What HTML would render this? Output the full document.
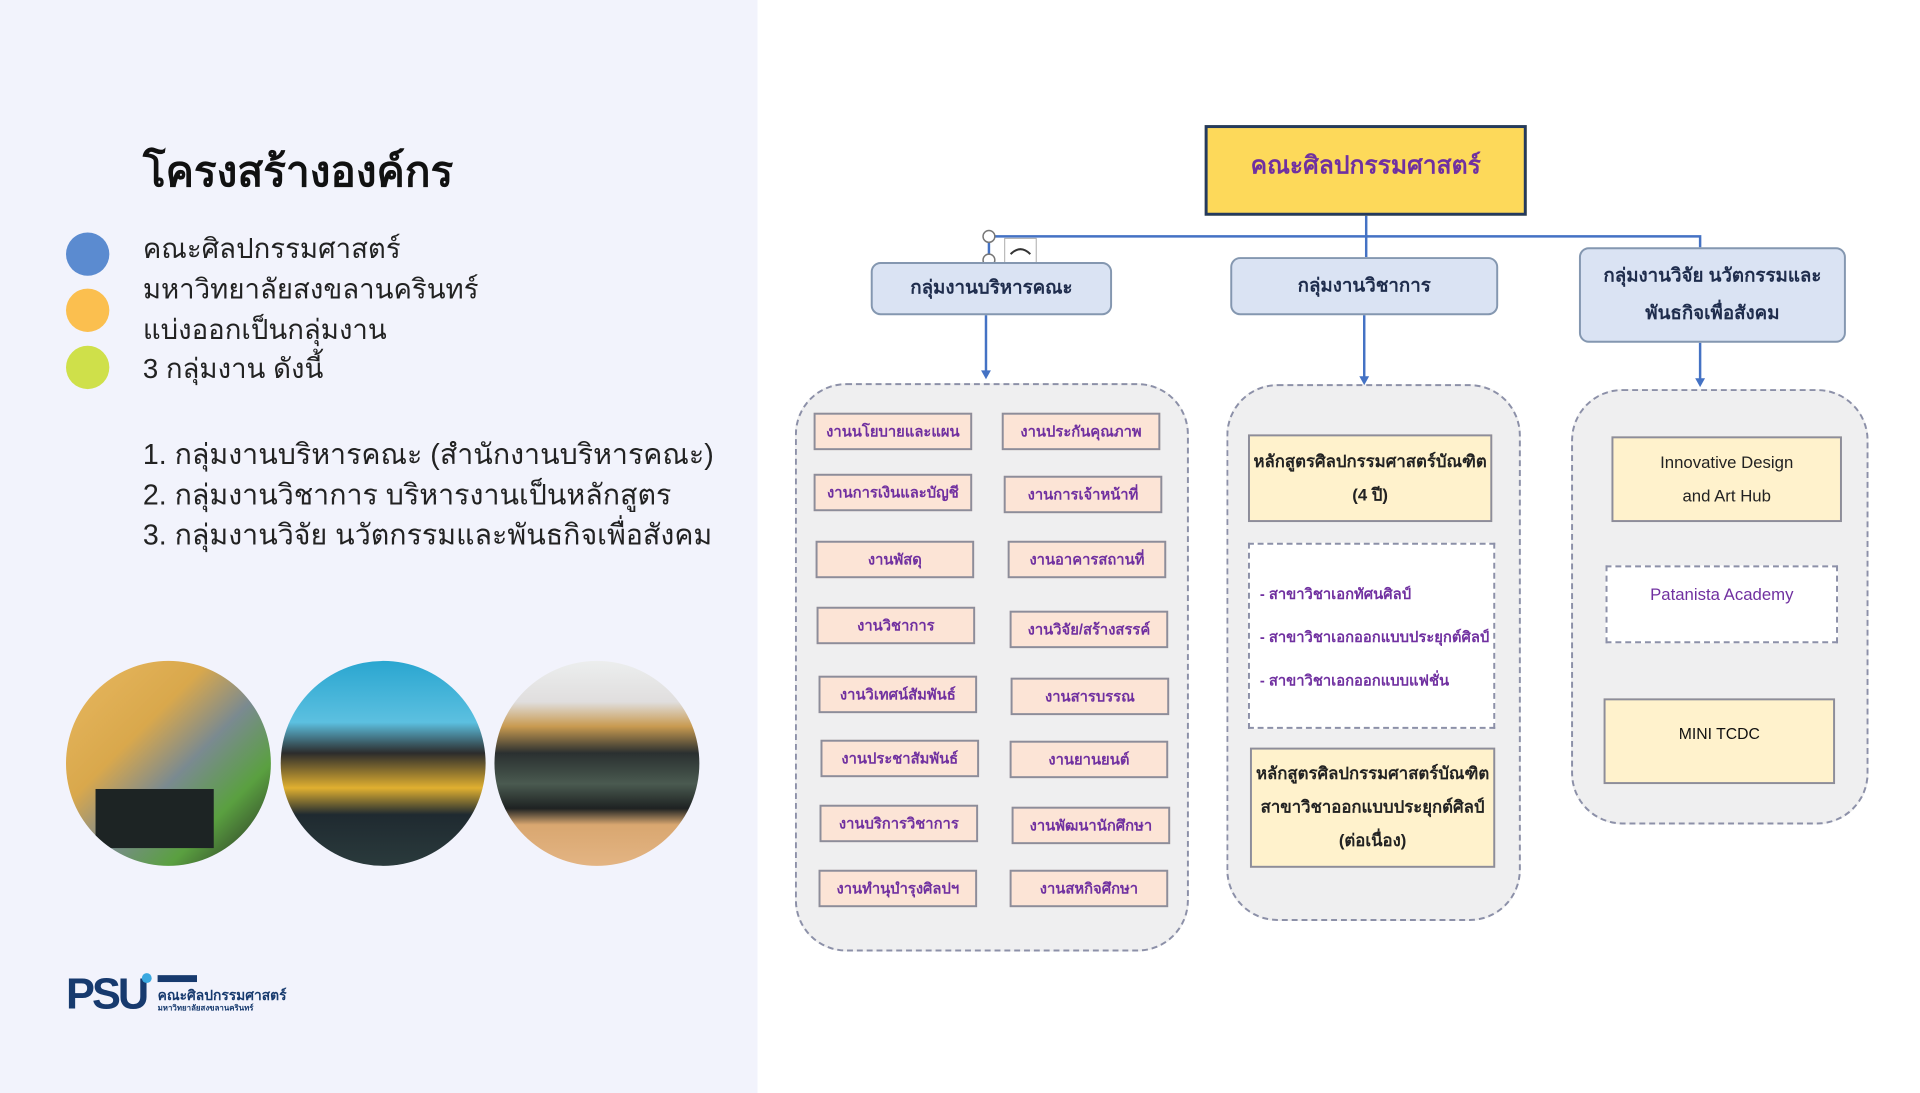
<!DOCTYPE html>
<html><head><meta charset="utf-8"><style>
*{margin:0;padding:0;box-sizing:border-box}
body{width:1920px;height:1080px;position:relative;background:#fff;font-family:"Liberation Sans","Noto Sans CJK SC",sans-serif;overflow:hidden}
#w{position:absolute;left:0;top:0;width:1960px;height:1110px;transform:scale(0.985);transform-origin:0 0}
.a{position:absolute}
.lp{left:0;top:0;width:769px;height:1110px;background:#f2f3fc}
.t{font-size:28px;color:#222;white-space:nowrap;line-height:40px}
.t2{font-size:29px;color:#222;white-space:nowrap;line-height:40px}
.dot{width:44px;height:44px;border-radius:50%}
.ph{width:208px;height:208px;border-radius:50%;overflow:hidden}
.cont{background:#efeff0;border:2px dashed #8c90a8;border-radius:52px}
.grp{background:#dae3f3;border:2px solid #8497b0;border-radius:10px;display:flex;align-items:center;justify-content:center;text-align:center;font-size:19px;font-weight:bold;color:#1f2d4d;line-height:38px}
.sb{background:#fce4d6;border:2px solid #8d8d9a;display:flex;align-items:center;justify-content:center;font-size:15px;font-weight:bold;color:#7030a0;width:161px;height:38px}
.yb{background:#fff2cc;border:2px solid #8d8d9a;display:flex;align-items:center;justify-content:center;text-align:center}
.pt{font-size:17px;font-weight:bold;color:#222;line-height:34px}
</style></head><body><div id="w">
<div class="a lp"></div>
<div class="a" style="left:145px;top:140px;font-size:43px;font-weight:bold;color:#111;white-space:nowrap">โครงสร้างองค์กร</div>
<div class="a dot" style="left:67px;top:236px;background:#5b8bd0"></div>
<div class="a dot" style="left:67px;top:293px;background:#fbbf4f"></div>
<div class="a dot" style="left:67px;top:351px;background:#cfe04a"></div>
<div class="a t" style="left:145px;top:233px">คณะศิลปกรรมศาสตร์</div>
<div class="a t" style="left:145px;top:274px">มหาวิทยาลัยสงขลานครินทร์</div>
<div class="a t" style="left:145px;top:315px">แบ่งออกเป็นกลุ่มงาน</div>
<div class="a t" style="left:145px;top:355px">3 กลุ่มงาน ดังนี้</div>
<div class="a t2" style="left:145px;top:442px">1. กลุ่มงานบริหารคณะ (สำนักงานบริหารคณะ)</div>
<div class="a t2" style="left:145px;top:483px">2. กลุ่มงานวิชาการ บริหารงานเป็นหลักสูตร</div>
<div class="a t2" style="left:145px;top:524px">3. กลุ่มงานวิจัย นวัตกรรมและพันธกิจเพื่อสังคม</div>

<div class="a ph" style="left:67px;top:671px;background:linear-gradient(135deg,#e8b860 0%,#d9a84c 35%,#7a8a90 55%,#5aa040 75%,#222 100%)"><div style="position:absolute;left:30px;top:130px;width:120px;height:60px;background:#1d2424"></div></div>
<div class="a ph" style="left:285px;top:671px;background:linear-gradient(180deg,#2aa6d0 0%,#5cc0e0 30%,#2c2c2c 45%,#e0b030 62%,#1f2a30 75%,#2a3a3c 100%)"></div>
<div class="a ph" style="left:502px;top:671px;background:linear-gradient(180deg,#eceeee 0%,#e0dede 20%,#c89a50 32%,#2a3030 45%,#4a5a50 60%,#1e2222 72%,#d9a770 80%,#e3b483 100%)"></div>

<div class="a" style="left:67px;top:985px;font-size:44px;font-weight:bold;color:#173a6e;letter-spacing:-3px">PSU</div>
<div class="a" style="left:144px;top:988px;width:10px;height:10px;border-radius:50%;background:#3aa8e0"></div>
<div class="a" style="left:160px;top:990px;width:40px;height:7px;background:#173a6e"></div>
<div class="a" style="left:160px;top:1000px;font-size:14px;font-weight:bold;color:#173a6e;white-space:nowrap">คณะศิลปกรรมศาสตร์</div>
<div class="a" style="left:160px;top:1017px;font-size:8px;font-weight:bold;color:#173a6e;white-space:nowrap">มหาวิทยาลัยสงขลานครินทร์</div>

<div class="a cont" style="left:807px;top:389px;width:400px;height:577px"></div>
<div class="a cont" style="left:1245px;top:390px;width:299px;height:545px"></div>
<div class="a cont" style="left:1595px;top:395px;width:302px;height:442px"></div>

<svg class="a" style="left:0;top:0" width="1960" height="1110">
<g stroke="#4472c4" stroke-width="2.5" fill="none">
<line x1="1387" y1="219" x2="1387" y2="240"/>
<polyline points="1004,266 1004,240 1726,240 1726,251"/>
<line x1="1387" y1="240" x2="1387" y2="261"/>
<line x1="1001" y1="320" x2="1001" y2="378"/>
<line x1="1385" y1="320" x2="1385" y2="384"/>
<line x1="1726" y1="348" x2="1726" y2="386"/>
</g>
<g fill="#4472c4">
<polygon points="996,376 1006,376 1001,385"/>
<polygon points="1380,382 1390,382 1385,391"/>
<polygon points="1721,384 1731,384 1726,393"/>
</g>
<circle cx="1004" cy="240" r="6" fill="#fff" stroke="#777" stroke-width="1.5"/>
<circle cx="1004" cy="264" r="6" fill="#fff" stroke="#777" stroke-width="1.5"/>
<rect x="1020" y="242" width="32" height="28" fill="#fff" stroke="#aaa"/>
<path d="M1026 258 q10 -10 20 0" stroke="#333" stroke-width="2" fill="none"/>
</svg>

<div class="a" style="left:1223px;top:127px;width:327px;height:92px;background:#fdd95a;border:3px solid #243a5e;display:flex;align-items:flex-start;justify-content:center;padding-top:18px;font-size:25px;font-weight:bold;color:#7030a0">คณะศิลปกรรมศาสตร์</div>

<div class="a grp" style="left:884px;top:266px;width:245px;height:54px">กลุ่มงานบริหารคณะ</div>
<div class="a grp" style="left:1249px;top:261px;width:272px;height:59px">กลุ่มงานวิชาการ</div>
<div class="a grp" style="left:1603px;top:251px;width:271px;height:97px">กลุ่มงานวิจัย นวัตกรรมและ<br>พันธกิจเพื่อสังคม</div>

<div class="a sb" style="left:826px;top:419px">งานนโยบายและแผน</div>
<div class="a sb" style="left:1017px;top:419px">งานประกันคุณภาพ</div>
<div class="a sb" style="left:826px;top:481px">งานการเงินและบัญชี</div>
<div class="a sb" style="left:1019px;top:483px">งานการเจ้าหน้าที่</div>
<div class="a sb" style="left:828px;top:549px">งานพัสดุ</div>
<div class="a sb" style="left:1023px;top:549px">งานอาคารสถานที่</div>
<div class="a sb" style="left:829px;top:616px">งานวิชาการ</div>
<div class="a sb" style="left:1025px;top:620px">งานวิจัย/สร้างสรรค์</div>
<div class="a sb" style="left:831px;top:686px">งานวิเทศน์สัมพันธ์</div>
<div class="a sb" style="left:1026px;top:688px">งานสารบรรณ</div>
<div class="a sb" style="left:833px;top:751px">งานประชาสัมพันธ์</div>
<div class="a sb" style="left:1025px;top:752px">งานยานยนต์</div>
<div class="a sb" style="left:832px;top:817px">งานบริการวิชาการ</div>
<div class="a sb" style="left:1027px;top:819px">งานพัฒนานักศึกษา</div>
<div class="a sb" style="left:831px;top:883px">งานทำนุบำรุงศิลปฯ</div>
<div class="a sb" style="left:1025px;top:883px">งานสหกิจศึกษา</div>

<div class="a yb pt" style="left:1267px;top:441px;width:248px;height:89px">หลักสูตรศิลปกรรมศาสตร์บัณฑิต<br>(4 ปี)</div>
<div class="a" style="left:1267px;top:551px;width:251px;height:189px;background:#fff;border:2px dashed #8c90a8;padding:29px 0 0 10px;font-size:15px;font-weight:bold;color:#7030a0;line-height:44px">- สาขาวิชาเอกทัศนศิลป์<br>- สาขาวิชาเอกออกแบบประยุกต์ศิลป์<br>- สาขาวิชาเอกออกแบบแฟชั่น</div>
<div class="a yb pt" style="left:1269px;top:759px;width:249px;height:122px">หลักสูตรศิลปกรรมศาสตร์บัณฑิต<br>สาขาวิชาออกแบบประยุกต์ศิลป์<br>(ต่อเนื่อง)</div>

<div class="a yb" style="left:1636px;top:443px;width:234px;height:87px;font-size:17px;color:#222;line-height:34px">Innovative Design<br>and Art Hub</div>
<div class="a" style="left:1630px;top:574px;width:236px;height:79px;background:#fff;border:2px dashed #8c90a8;text-align:center;padding-top:18px;font-size:17px;color:#7030a0">Patanista Academy</div>
<div class="a yb" style="left:1628px;top:709px;width:235px;height:87px;font-size:16px;color:#111;align-items:flex-start;padding-top:26px">MINI TCDC</div>
</div></body></html>
